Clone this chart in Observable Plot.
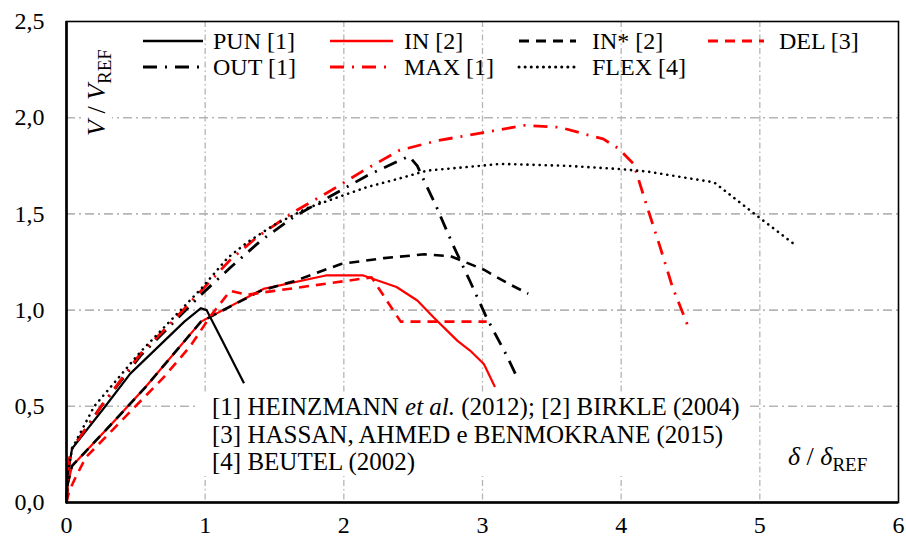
<!DOCTYPE html>
<html>
<head>
<meta charset="utf-8">
<script src="https://cdn.jsdelivr.net/npm/d3@7"></script>
<script src="https://cdn.jsdelivr.net/npm/@observablehq/plot@0.6"></script>
<style>
  html, body { margin: 0; padding: 0; background: #fff; }
  #wrap { position: relative; width: 906px; height: 541px; font-family: "Liberation Serif", "Times New Roman", Tinos, "DejaVu Serif", serif; }
  #wrap svg { display: block; }
  .ov { position: absolute; color: #000; white-space: nowrap; }
</style>
</head>
<body>
<div id="wrap"></div>
<script>
// ---------- data ----------
const xTicks = [0, 1, 2, 3, 4, 5, 6];
const yTicks = [0, 0.5, 1.0, 1.5, 2.0, 2.5];
const xGrid = [1, 2, 3, 4, 5];
const yGrid = [0.5, 1.0, 1.5, 2.0];

const seriesNames = ["PUN [1]", "IN [2]", "IN* [2]", "DEL [3]", "OUT [1]", "MAX [1]", "FLEX [4]"];

const punX = [0, 0.01, 0.04, 0.28, 0.46, 0.85, 0.97, 1.01, 1.11, 1.28];
const punY = [0, 0.15, 0.28, 0.50, 0.67, 0.94, 1.01, 1.00, 0.86, 0.62];

const inX = [0, 0.01, 0.04, 0.34, 0.57, 0.97, 1.42, 1.87, 2.14, 2.38, 2.53, 2.65, 2.82, 2.91, 3.01, 3.09];
const inY = [0, 0.10, 0.19, 0.42, 0.60, 0.94, 1.11, 1.18, 1.18, 1.12, 1.05, 0.96, 0.84, 0.79, 0.72, 0.60];

const inStarX = [0, 0.01, 0.04, 0.34, 0.57, 0.97, 1.40, 1.64, 1.98, 2.29, 2.58, 2.77, 3.01, 3.18, 3.33];
const inStarY = [0, 0.10, 0.19, 0.42, 0.60, 0.94, 1.10, 1.15, 1.24, 1.27, 1.29, 1.28, 1.21, 1.14, 1.085];

const delX = [0, 0.02, 0.065, 0.14, 0.70, 0.89, 1.04, 1.18, 1.30, 1.50, 2.20, 2.41, 3.03];
const delY = [0, 0.06, 0.13, 0.235, 0.65, 0.81, 0.97, 1.10, 1.08, 1.10, 1.17, 0.94, 0.94];

const outX = [0, 0.01, 0.03, 0.25, 0.53, 0.75, 0.97, 1.18, 1.40, 1.65, 1.90, 2.17, 2.47, 2.53, 2.60, 2.66, 2.78, 2.91, 3.03, 3.17, 3.26];
const outY = [0, 0.15, 0.27, 0.50, 0.76, 0.92, 1.08, 1.22, 1.36, 1.49, 1.59, 1.70, 1.80, 1.75, 1.64, 1.55, 1.35, 1.15, 0.96, 0.77, 0.635];

const maxX = [0, 0.01, 0.03, 0.25, 0.53, 0.75, 0.97, 1.18, 1.375, 1.64, 1.88, 2.13, 2.40, 2.67, 2.985, 3.30, 3.56, 3.71, 3.87, 3.98, 4.09, 4.19, 4.28, 4.37, 4.48];
const maxY = [0, 0.15, 0.27, 0.50, 0.77, 0.93, 1.10, 1.26, 1.38, 1.51, 1.61, 1.72, 1.83, 1.88, 1.92, 1.96, 1.95, 1.92, 1.89, 1.84, 1.76, 1.53, 1.33, 1.12, 0.92];

const flexX = [0, 0.01, 0.04, 0.20, 0.53, 0.97, 1.16, 1.30, 1.49, 1.735, 1.99, 2.17, 2.38, 2.60, 2.985, 3.13, 3.61, 3.99, 4.19, 4.67, 4.98, 5.24];
const flexY = [0, 0.15, 0.28, 0.50, 0.78, 1.11, 1.27, 1.35, 1.44, 1.53, 1.595, 1.64, 1.68, 1.725, 1.75, 1.76, 1.75, 1.733, 1.72, 1.664, 1.49, 1.347];

const annotationLines = [
  '[1] HEINZMANN <i>et al.</i> (2012); [2] BIRKLE (2004)',
  '[3] HASSAN, AHMED e BENMOKRANE (2015)',
  '[4] BEUTEL (2002)'
];

// ---------- styles ----------
const FONT = "'Liberation Serif', 'Times New Roman', Tinos, 'DejaVu Serif', serif";
const RED = "#ff0000";
const styles = {
  "PUN [1]":  {stroke: "#000", dash: null,          width: 2.2, cap: "butt"},
  "IN [2]":   {stroke: RED,    dash: null,          width: 2.2, cap: "butt"},
  "IN* [2]":  {stroke: "#000", dash: "10,7",        width: 2.6, cap: "butt"},
  "DEL [3]":  {stroke: RED,    dash: "10,7",        width: 2.6, cap: "butt"},
  "OUT [1]":  {stroke: "#000", dash: "14,8,2,8",    width: 2.8, cap: "butt"},
  "MAX [1]":  {stroke: RED,    dash: "14,8,2,8",    width: 2.8, cap: "butt"},
  "FLEX [4]": {stroke: "#000", dash: "0.1,6",       width: 2.6, cap: "round"}
};

const seriesData = [
  [punX, punY], [inX, inY], [inStarX, inStarY], [delX, delY],
  [outX, outY], [maxX, maxY], [flexX, flexY]
];

const fmt = d => d3.format(".1f")(d).replace(".", ",");

const lineMarks = seriesNames.map((name, i) => {
  const [xs, ys] = seriesData[i];
  const rows = xs.map((x, j) => ({x, y: ys[j]}));
  const s = styles[name];
  return Plot.line(rows, {
    x: "x", y: "y", stroke: s.stroke, strokeWidth: s.width,
    strokeDasharray: s.dash || undefined, strokeLinecap: s.cap, strokeLinejoin: "round"
  });
});

const W = 906, H = 541, ML = 66, MR = 8, MT = 21, MB = 39;

const chart = Plot.plot({
  width: W, height: H,
  marginLeft: ML, marginRight: MR, marginTop: MT, marginBottom: MB,
  style: {fontFamily: FONT, background: "#fff", color: "#000", overflow: "visible"},
  x: {domain: [0, 6]},
  y: {domain: [0, 2.5]},
  marks: [
    Plot.gridX(xGrid, {stroke: "#b5b5b5", strokeOpacity: 1, strokeWidth: 1.3, strokeDasharray: "6,3,1.5,3"}),
    Plot.gridY(yGrid, {stroke: "#b5b5b5", strokeOpacity: 1, strokeWidth: 1.6, strokeDasharray: "9,4,2,4"}),
    Plot.axisX(xTicks, {tickSize: 0, tickPadding: 13, fontSize: 24, fontFamily: FONT, label: null, tickFormat: d => String(d)}),
    Plot.axisY(yTicks, {tickSize: 0, tickPadding: 22, fontSize: 24, fontFamily: FONT, label: null, tickFormat: fmt}),
    ...lineMarks,
    Plot.frame({stroke: "#000", strokeWidth: 1.6}),
    Plot.ruleX([0], {stroke: "#000", strokeWidth: 2.6}),
    Plot.ruleY([0], {stroke: "#000", strokeWidth: 2.6})
  ]
});

const wrap = document.getElementById("wrap");
wrap.appendChild(chart);

// ---------- annotation block (white box) ----------
const ann = document.createElement("div");
ann.className = "ov";
ann.style.cssText = "left:196px;top:393px;padding:0 10px 0 16px;background:#fff;font-size:25px;line-height:27.5px;";
ann.innerHTML = annotationLines.join("<br>");
wrap.appendChild(ann);

// ---------- axis titles ----------
const xl = document.createElement("div");
xl.className = "ov";
xl.style.cssText = "left:784px;top:442px;font-size:26px;background:#fff;padding:0 4px;";
xl.innerHTML = '<i>δ</i> / <i>δ</i><span style="font-size:19px;position:relative;top:6px;">REF</span>';
wrap.appendChild(xl);

const yl = document.createElement("div");
yl.className = "ov";
yl.style.cssText = "left:82px;top:136px;font-size:26px;transform-origin:0 0;transform:rotate(-90deg);background:#fff;";
yl.innerHTML = '<i>V</i> / <i>V</i><span style="font-size:19px;position:relative;top:6px;">REF</span>';
wrap.appendChild(yl);

// ---------- legend ----------
const legendRows = [["PUN [1]", "IN [2]", "IN* [2]", "DEL [3]"], ["OUT [1]", "MAX [1]", "FLEX [4]"]];
const sampleX0 = [143, 330, 519, 708];
const sampleX1 = [203, 393, 576, 764];
const textX = [213, 404, 592, 779];
const rowY = [41, 67];
const lg = d3.select(wrap).append("svg")
  .attr("width", W).attr("height", 90)
  .style("position", "absolute").style("left", "0px").style("top", "0px")
  .style("pointer-events", "none");
legendRows.forEach((row, r) => {
  row.forEach((name, c) => {
    const s = styles[name];
    lg.append("line")
      .attr("x1", sampleX0[c]).attr("x2", sampleX1[c])
      .attr("y1", rowY[r]).attr("y2", rowY[r])
      .attr("stroke", s.stroke).attr("stroke-width", s.width + 0.4)
      .attr("stroke-dasharray", s.dash || null)
      .attr("stroke-linecap", s.cap);
    lg.append("text")
      .attr("x", textX[c]).attr("y", rowY[r])
      .attr("dy", "0.35em")
      .attr("font-family", FONT)
      .attr("font-size", 24)
      .text(name);
  });
});
</script>
</body>
</html>
